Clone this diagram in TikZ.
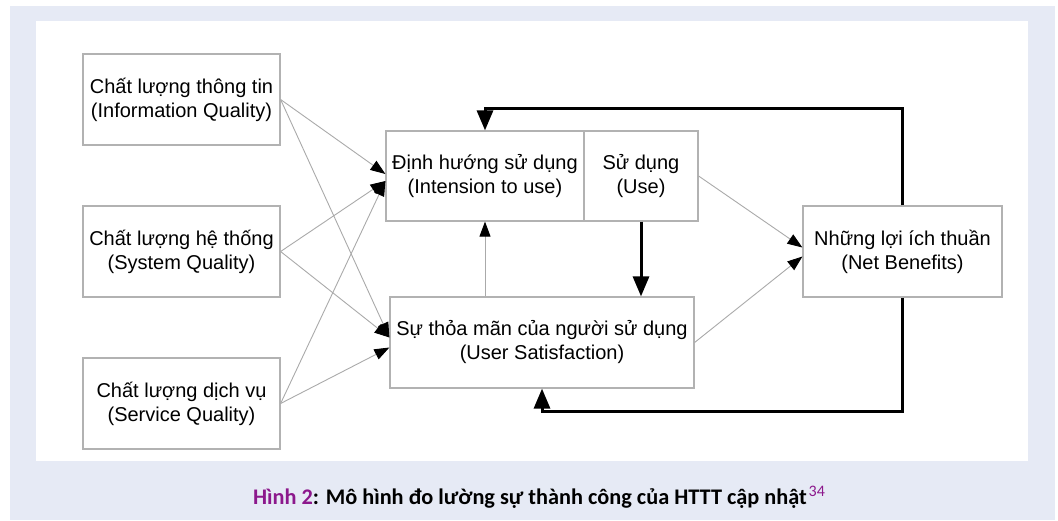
\documentclass[tikz,border=0pt]{standalone}
\usepackage{fontspec}
\setmainfont{Liberation Sans}
\newfontfamily\capfont{Carlito}
\usetikzlibrary{arrows.meta}
\definecolor{framebg}{RGB}{230,234,245}
\definecolor{linegray}{RGB}{170,170,170}
\definecolor{boxgray}{RGB}{178,178,178}
\definecolor{figpurple}{RGB}{140,24,140}

\begin{document}
\begin{tikzpicture}[x=1pt, y=-1pt,
        box/.style={draw=boxgray, line width=1.2pt, fill=white, align=center, inner sep=0pt,
            font=\fontsize{20}{24}\selectfont, minimum height=91pt},
        thinarrow/.style={draw=linegray, line width=0.9pt, -{Triangle[length=15pt,width=11pt,color=black]}},
        boldarrow/.style={draw=black, line width=3pt, -{Triangle[length=20pt,width=16pt]}}]
        \useasboundingbox (0,0) rectangle (1058,520);
        \fill[white] (0,0) rectangle (1058,520);
        \fill[framebg] (10,6) rectangle (1055,520);
        \fill[white] (36,21) rectangle (1028,461);

        \node[box, minimum width=197pt] (iq) at (181.5,99.5) {Chất lượng thông tin\\(Information Quality)};
        \node[box, minimum width=197pt] (sq) at (181.5,251.5) {Chất lượng hệ thống\\(System Quality)};
        \node[box, minimum width=197pt] (svq) at (181.5,403.5) {Chất lượng dịch vụ\\(Service Quality)};
        \node[box, minimum width=198pt, minimum height=90pt] (int) at (485,176) {Định hướng sử dụng\\(Intension to use)};
        \node[box, minimum width=114pt, minimum height=90pt] (use) at (641,176) {Sử dụng\\(Use)};
        \node[box, minimum width=304pt] (us) at (542,342.5) {Sự thỏa mãn của người sử dụng\\(User Satisfaction)};
        \node[box, minimum width=199pt] (nb) at (902.5,251.5) {Những lợi ích thuần\\(Net Benefits)};

        \draw[thinarrow] (iq.east) -- ([yshift=2pt]int.west);
        \draw[thinarrow] (iq.east) -- ([yshift=5pt]us.west);
        \draw[thinarrow] (sq.east) -- ([yshift=-5pt]int.west);
        \draw[thinarrow] (sq.east) -- ([yshift=5pt]us.west);
        \draw[thinarrow] (svq.east) -- ([yshift=-5pt]int.west);
        \draw[thinarrow] (svq.east) -- ([yshift=-5pt]us.west);
        \draw[thinarrow] (int.south |- us.north) -- (int.south);
        \draw[thinarrow] (use.east) -- ([yshift=4pt]nb.west);
        \draw[thinarrow] (us.east) -- ([yshift=-5pt]nb.west);

        \draw[boldarrow] (use.south) -- (use.south |- us.north);
        \coordinate (fbtop) at (0,108);
        \coordinate (fbbot) at (0,411);
        \draw[boldarrow] (nb.north) -- (nb.north |- fbtop) -| (int.north);
        \draw[boldarrow] (nb.south) -- (nb.south |- fbbot) -| (us.south);

        \node[font=\capfont\bfseries\fontsize{22.3}{26}\selectfont, anchor=base] (cap) at (539,504)
            {\textcolor{figpurple}{Hình 2}: Mô hình đo lường sự thành công của HTTT cập nhật\kern2pt\raisebox{8pt}{\mdseries\fontsize{16}{16}\selectfont\color{figpurple}34}};
    \end{tikzpicture}
\end{document}
